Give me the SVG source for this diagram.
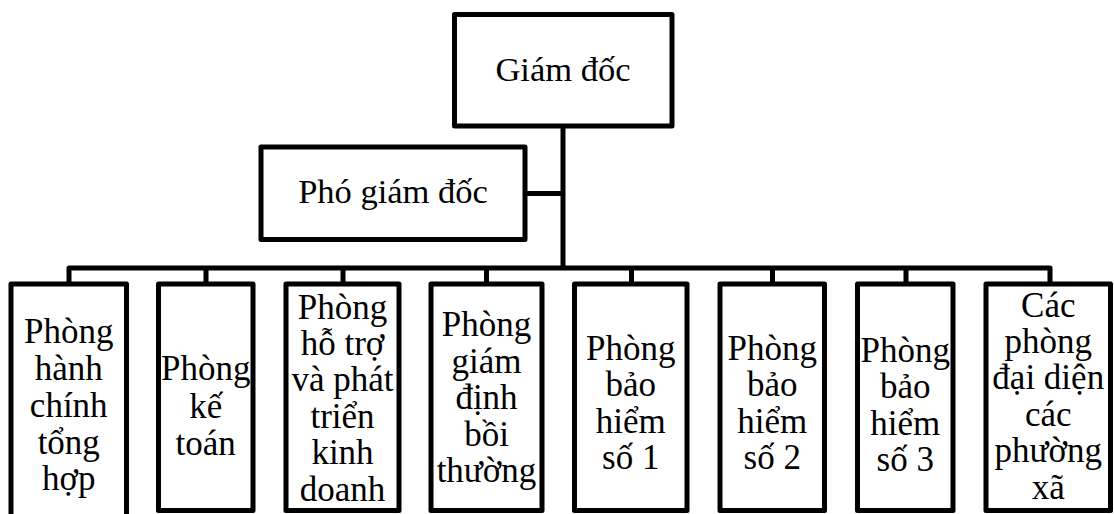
<svg xmlns="http://www.w3.org/2000/svg" width="1114" height="514" viewBox="0 0 1114 514">
  <style>
    .box { fill: #ffffff; stroke: #000000; stroke-width: 5; stroke-linejoin: round; }
    .link { fill: none; stroke: #000000; stroke-width: 5; stroke-linejoin: round; }
    text { font-family: "Liberation Serif", "Times New Roman", serif; font-size: 35px; fill: #000000; text-anchor: middle; }
    .head text { font-size: 34.5px; }
  </style>
  <rect width="1114" height="514" fill="#ffffff"/>

  <!-- connectors -->
  <g id="connectors">
    <path class="link" d="M563 126 V268"/>
    <path class="link" d="M525 193.5 H563"/>
    <path class="link" d="M69 284 V268 H1050 V284"/>
    <path class="link" d="M206 268 V284 M343 268 V284 M486.5 268 V284 M631.5 268 V284 M772.5 268 V284 M906 268 V284"/>
  </g>

  <!-- top level -->
  <g id="giam-doc" class="head">
    <rect class="box" x="454.5" y="14.5" width="217.5" height="111.5"/>
    <text x="563" y="81">Giám đốc</text>
  </g>
  <g id="pho-giam-doc" class="head">
    <rect class="box" x="261" y="147" width="264" height="92.5"/>
    <text x="393" y="203">Phó giám đốc</text>
  </g>

  <!-- departments -->
  <g id="phong-hanh-chinh">
    <rect class="box" x="11" y="284" width="115.5" height="250"/>
    <text x="68.75" y="343">Phòng</text>
    <text x="68.75" y="380">hành</text>
    <text x="68.75" y="417">chính</text>
    <text x="68.75" y="454">tổng</text>
    <text x="68.75" y="490">hợp</text>
  </g>
  <g id="phong-ke-toan">
    <rect class="box" x="158.5" y="284" width="94.5" height="226.5"/>
    <text x="205.75" y="380">Phòng</text>
    <text x="205.75" y="417.5">kế</text>
    <text x="205.75" y="455">toán</text>
  </g>
  <g id="phong-ho-tro">
    <rect class="box" x="286" y="284" width="113" height="226.5"/>
    <text x="342.5" y="318.5">Phòng</text>
    <text x="342.5" y="354.9">hỗ trợ</text>
    <text x="342.5" y="391.3">và phát</text>
    <text x="342.5" y="427.7">triển</text>
    <text x="342.5" y="464.1">kinh</text>
    <text x="342.5" y="500.5">doanh</text>
  </g>
  <g id="phong-giam-dinh">
    <rect class="box" x="431" y="284" width="111" height="226.5"/>
    <text x="486.5" y="336">Phòng</text>
    <text x="486.5" y="372.6">giám</text>
    <text x="486.5" y="409.2">định</text>
    <text x="486.5" y="445.8">bồi</text>
    <text x="486.5" y="482.4">thường</text>
  </g>
  <g id="phong-bao-hiem-1">
    <rect class="box" x="574.5" y="284" width="112.5" height="226.5"/>
    <text x="630.75" y="360">Phòng</text>
    <text x="630.75" y="396.4">bảo</text>
    <text x="630.75" y="432.8">hiểm</text>
    <text x="630.75" y="469.2">số 1</text>
  </g>
  <g id="phong-bao-hiem-2">
    <rect class="box" x="720" y="284" width="104.5" height="226.5"/>
    <text x="772.25" y="360">Phòng</text>
    <text x="772.25" y="396.4">bảo</text>
    <text x="772.25" y="432.8">hiểm</text>
    <text x="772.25" y="469.2">số 2</text>
  </g>
  <g id="phong-bao-hiem-3">
    <rect class="box" x="857.5" y="284" width="95.5" height="226.5"/>
    <text x="905.25" y="362">Phòng</text>
    <text x="905.25" y="398.4">bảo</text>
    <text x="905.25" y="434.8">hiểm</text>
    <text x="905.25" y="471.2">số 3</text>
  </g>
  <g id="phong-dai-dien">
    <rect class="box" x="986" y="284" width="124.5" height="226.5"/>
    <text x="1048.25" y="316.5">Các</text>
    <text x="1048.25" y="352.9">phòng</text>
    <text x="1048.25" y="389.3">đại diện</text>
    <text x="1048.25" y="425.7">các</text>
    <text x="1048.25" y="462.1">phường</text>
    <text x="1048.25" y="498.5">xã</text>
  </g>
</svg>
